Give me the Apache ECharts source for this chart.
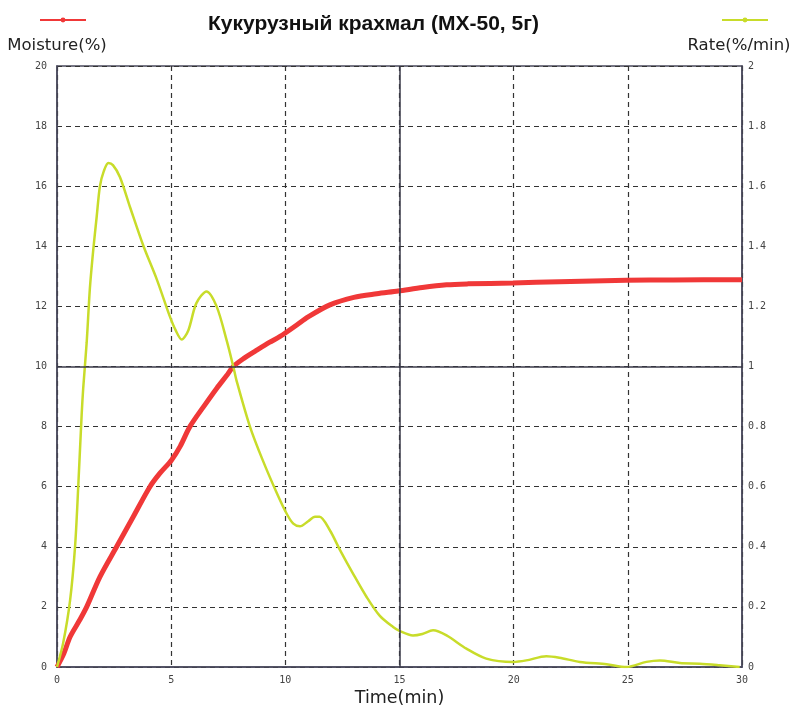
<!DOCTYPE html>
<html>
<head>
<meta charset="utf-8">
<script src="https://cdn.jsdelivr.net/npm/echarts@6/dist/echarts.min.js"></script>
<style>
  html, body { margin: 0; padding: 0; background: #fff; }
  #main { width: 795px; height: 707px; }
</style>
</head>
<body>
<div id="main"></div>
<script>
// moisture curve (left axis, %)
var moistureTime = [0, 0.3, 0.57, 1.0, 1.3, 1.88, 2.61, 3.34, 4.07, 4.51, 5.02, 5.4, 5.82, 6.5, 7.0, 7.43, 7.72, 8.2, 8.7, 9.3, 9.77, 10.5, 11.0, 11.95, 13.0, 14.0, 14.94, 16.0, 17.06, 18.0, 19.97, 22.0, 24.94, 27.0, 30];
var moistureValue = [0, 0.45, 1.0, 1.57, 2.0, 3.0, 4.0, 5.0, 6.0, 6.45, 6.89, 7.35, 8.0, 8.75, 9.28, 9.7, 10.0, 10.28, 10.52, 10.8, 11.0, 11.38, 11.65, 12.05, 12.3, 12.42, 12.51, 12.63, 12.72, 12.75, 12.78, 12.82, 12.87, 12.88, 12.89];

// drying rate curve (right axis, %/min)
var rateTime = [0, 0.27, 0.57, 0.79, 0.93, 1.08, 1.15, 1.3, 1.44, 1.59, 1.74, 1.88, 2.05, 2.25, 2.45, 2.76, 3.2, 3.79, 4.37, 4.95, 5.2, 5.46, 5.75, 6.1, 6.55, 6.99, 7.43, 7.72, 7.86, 8.45, 9.0, 9.62, 10.06, 10.35, 10.64, 11.0, 11.3, 11.5, 11.95, 12.39, 12.97, 13.56, 14.14, 14.72, 15.0, 15.59, 16.0, 16.47, 17.06, 17.93, 18.8, 19.97, 20.55, 21.43, 22.0, 22.9, 24.07, 24.94, 25.81, 26.4, 27.28, 28.15, 29.02, 29.9];
var rateValue = [0, 0.08, 0.22, 0.40, 0.60, 0.84, 0.93, 1.08, 1.26, 1.39, 1.5, 1.60, 1.65, 1.677, 1.67, 1.63, 1.53, 1.40, 1.29, 1.165, 1.12, 1.09, 1.12, 1.21, 1.25, 1.20, 1.087, 1.0, 0.954, 0.80, 0.69, 0.58, 0.51, 0.477, 0.468, 0.485, 0.50, 0.50, 0.455, 0.39, 0.31, 0.233, 0.17, 0.133, 0.12, 0.105, 0.11, 0.122, 0.105, 0.061, 0.028, 0.017, 0.022, 0.036, 0.031, 0.017, 0.009, 0, 0.017, 0.022, 0.013, 0.011, 0.006, 0];

function pairs(xs, ys) {
    return xs.map(function (x, i) { return [x, ys[i]]; });
}

var frameColor = '#4a4a5c';
var tickFont = { color: '#444', fontFamily: 'DejaVu Sans Mono', fontSize: 10 };
var dashed = { show: true, lineStyle: { color: '#333', type: [5, 4], width: 1.2 } };
var nameFont = { fontFamily: 'DejaVu Sans', fontSize: 16.5, color: '#222' };

var myChart = echarts.init(document.getElementById('main'));

option = {
    backgroundColor: '#fff',
    animation: false,
    title: {
        text: 'Кукурузный крахмал (MX-50, 5г)',
        left: 203,
        top: 9,
        textStyle: { fontFamily: 'Liberation Sans', fontWeight: 'bold', fontSize: 21, color: '#111' }
    },
    legend: [
        { data: ['Moisture'], left: 34, top: 12, itemWidth: 46, itemHeight: 6, formatter: function () { return ''; } },
        { data: ['Rate'], left: 716, top: 12, itemWidth: 46, itemHeight: 6, formatter: function () { return ''; } }
    ],
    grid: {
        left: 57, right: 53, top: 66, bottom: 40,
        outerBoundsMode: 'none',
        containLabel: false,
        show: true, borderColor: frameColor, borderWidth: 1.5
    },
    xAxis: {
        type: 'value', min: 0, max: 30, interval: 5,
        name: 'Time(min)', nameLocation: 'middle', nameGap: 21,
        nameTextStyle: Object.assign({}, nameFont, { fontSize: 17.5 }),
        axisLine: { show: true, lineStyle: { color: frameColor, width: 1.5 } },
        axisTick: { show: false },
        axisLabel: Object.assign({ margin: 8 }, tickFont),
        splitLine: dashed
    },
    yAxis: [
        {
            type: 'value', min: 0, max: 20, interval: 2,
            name: 'Moisture(%)', nameGap: 12,
            nameTextStyle: nameFont,
            axisLine: { show: true, lineStyle: { color: frameColor, width: 1.5 } },
            axisTick: { show: false },
            axisLabel: Object.assign({ margin: 10 }, tickFont),
            splitLine: dashed
        },
        {
            type: 'value', min: 0, max: 2, interval: 0.2,
            name: 'Rate(%/min)', nameGap: 12,
            nameTextStyle: Object.assign({}, nameFont, { padding: [0, 6, 0, 0] }),
            axisLine: { show: true, lineStyle: { color: frameColor, width: 1.5 } },
            axisTick: { show: false },
            axisLabel: Object.assign({ margin: 6 }, tickFont),
            splitLine: { show: false }
        }
    ],
    series: [
        {
            name: 'Moisture',
            type: 'line',
            yAxisIndex: 0,
            data: pairs(moistureTime, moistureValue),
            smooth: 0.3,
            symbol: 'circle', symbolSize: 3, showSymbol: false,
            z: 3,
            itemStyle: { color: '#f03838' },
            lineStyle: { color: '#f03838', width: 5 },
            markLine: {
                silent: true, symbol: 'none', label: { show: false },
                lineStyle: { color: '#3a3a48', type: 'solid', width: 1.5 },
                data: [{ yAxis: 10 }, { xAxis: 15 }]
            }
        },
        {
            name: 'Rate',
            type: 'line',
            yAxisIndex: 1,
            data: pairs(rateTime, rateValue),
            smooth: 0.3,
            symbol: 'circle', symbolSize: 3, showSymbol: false,
            z: 4,
            itemStyle: { color: '#c8dc2a' },
            lineStyle: { color: '#c8dc2a', width: 2.5 }
        }
    ]
};

myChart.setOption(option);
</script>
</body>
</html>
